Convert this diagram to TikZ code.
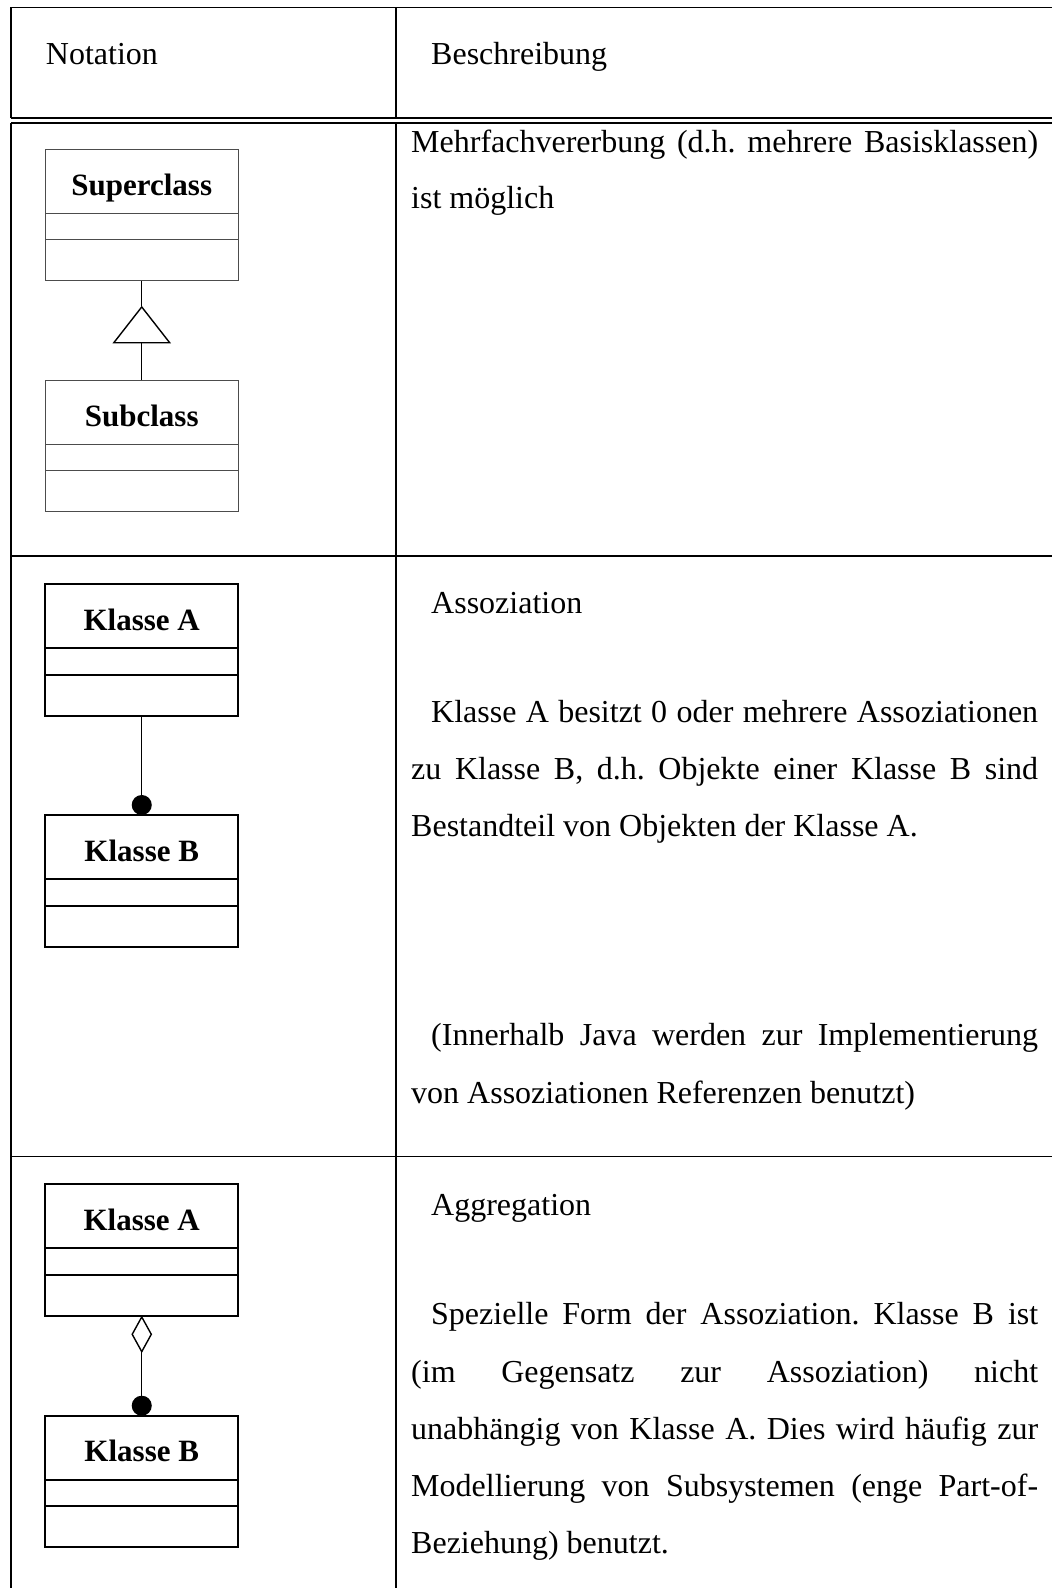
\documentclass[tikz,border=0pt]{standalone}
\usepackage{fontspec}
\setmainfont{Liberation Serif}
\usetikzlibrary{arrows.meta,calc}

\newcommand\bodyfont{\fontsize{32}{38}\selectfont}
\newcommand\classfont{\fontsize{31}{36}\selectfont\bfseries}
% a justified line of the given width
\newcommand\jline[2]{\makebox[#1][s]{#2}}
% UML class box: #1 name, #2 look (thin/bold), #3 centre x, #4 top y, #5 class name
\newcommand\umlclass[5]{%
  \node[#2box] (#1) at ($(#3,#4)+(0,65.75)$) {};
  \draw[#2line] ($(#1.north west)+(0,64)$) -- ($(#1.north east)+(0,64)$);
  \draw[#2line] ($(#1.north west)+(0,90.5)$) -- ($(#1.north east)+(0,90.5)$);
  \node[classname] (#1-name) at ($(#1.north)+(0,46)$) {#5};
}

\begin{document}
\frenchspacing
\begin{tikzpicture}[x=1pt,y=-1pt,
  rule/.style={line width=1.6pt},
  doublerule/.style={line width=2pt},
  txt/.style={anchor=base west, inner sep=0pt, font=\bodyfont},
  classname/.style={anchor=base, inner sep=0pt, font=\classfont},
  thinbox/.style={draw=black!70, line width=1pt, minimum width=192.8pt,
    minimum height=131.5pt, inner sep=0pt, outer sep=0pt},
  thinline/.style={draw=black!70, line width=1pt},
  boldbox/.style={draw=black, line width=2pt, minimum width=192.8pt,
    minimum height=131.5pt, inner sep=0pt, outer sep=0pt},
  boldline/.style={draw=black, line width=2pt},
  link/.style={line width=1.4pt},
]
\useasboundingbox (0,0) rectangle (1052,1588);

% table rules
\draw[rule] (1052,7.3) -- (11,7.3) -- (11,117.7);
\draw[rule] (396,7.3) -- (396,117.7);
\draw[doublerule] (11,117.7) -- (1052,117.7);
\draw[doublerule] (11,122.5) -- (1052,122.5);
\draw[rule] (11,122.5) -- (11,1588);
\draw[rule] (396,122.5) -- (396,1588);
\draw[rule] (11,556) -- (1052,556);
\draw[rule] (11,1156.5) -- (1052,1156.5);

% header
\node[txt] (hd-notation) at (45.7,64) {Notation};
\node[txt] (hd-desc) at (431,64) {Beschreibung};

% row 1: generalisation
\umlclass{sup}{thin}{141.75}{149.3}{Superclass}
\umlclass{sub}{thin}{141.75}{380}{Subclass}
\coordinate (apex) at ($(sup.south)+(0,25)$);
\draw[link] (sup.south) -- (apex);
\draw[link, -{Triangle[open, length=37.6pt, width=58.4pt]}] (sub.north) -- (apex);

\node[txt] (r1-l1) at (411,152) {\jline{627pt}{Mehrfachvererbung (d.h. mehrere Basisklassen)}};
\node[txt] (r1-l2) at (411,208) {ist möglich};

% row 2: association
\umlclass{assA}{bold}{141.75}{584}{Klasse A}
\umlclass{assB}{bold}{141.75}{815}{Klasse B}
\draw[link, -{Circle[length=20pt, width=20pt]}] (assA.south) -- (assB.north);

\node[txt] (r2-title) at (431,613) {Assoziation};
\node[txt] (r2-l1) at (431,722) {\jline{607pt}{Klasse A besitzt 0 oder mehrere Assoziationen}};
\node[txt] (r2-l2) at (411,779) {\jline{627pt}{zu Klasse B, d.h. Objekte einer Klasse B sind}};
\node[txt] (r2-l3) at (411,836) {Bestandteil von Objekten der Klasse A.};
\node[txt] (r2-l4) at (431,1045) {\jline{607pt}{(Innerhalb Java werden zur Implementierung}};
\node[txt] (r2-l5) at (411,1103) {von Assoziationen Referenzen benutzt)};

% row 3: aggregation
\umlclass{aggA}{bold}{141.75}{1184}{Klasse A}
\umlclass{aggB}{bold}{141.75}{1415.7}{Klasse B}
\draw[link, {Diamond[open, length=37.6pt, width=20.7pt]}-{Circle[length=20pt, width=20pt]}]
  (aggA.south) -- (aggB.north);

\node[txt] (r3-title) at (431,1215) {Aggregation};
\node[txt] (r3-l1) at (431,1324) {\jline{607pt}{Spezielle Form der Assoziation. Klasse B ist}};
\node[txt] (r3-l2) at (411,1382) {\jline{627pt}{(im Gegensatz zur Assoziation) nicht}};
\node[txt] (r3-l3) at (411,1439) {\jline{627pt}{unabhängig von Klasse A. Dies wird häufig zur}};
\node[txt] (r3-l4) at (411,1496) {\jline{627pt}{Modellierung von Subsystemen (enge Part-of-}};
\node[txt] (r3-l5) at (411,1553) {Beziehung) benutzt.};
\end{tikzpicture}
\end{document}
